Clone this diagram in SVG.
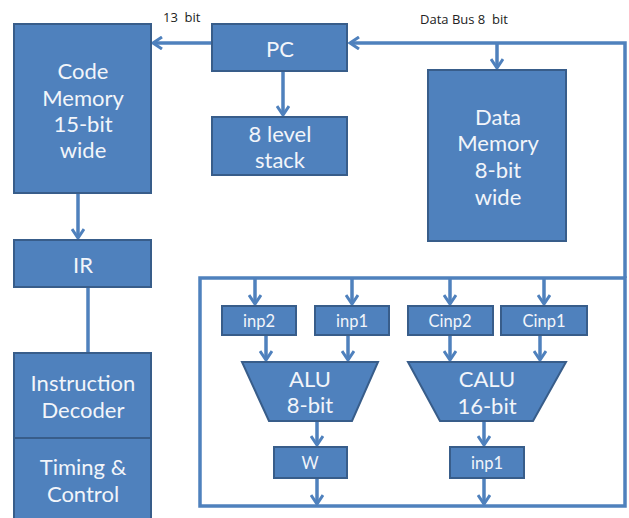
<svg xmlns="http://www.w3.org/2000/svg" width="629" height="518" viewBox="0 0 629 518">
<defs>
<style>
.box{fill:#4F81BD;stroke:#385D8A;stroke-width:2}
.ln{fill:none;stroke:#4F81BD;stroke-width:3.5}
.t{font-family:Lato,"Open Sans","Liberation Sans",sans-serif;fill:#F2F5FA;text-anchor:middle;dominant-baseline:central}
.big{font-size:22px}
.sm{font-size:16.5px}
.lbl{font-family:"Open Sans","Liberation Sans",sans-serif;font-size:13px;fill:#222;white-space:pre}
</style>
<marker id="ah" viewBox="0 0 14 14" refX="12" refY="7" markerWidth="14" markerHeight="14" markerUnits="userSpaceOnUse" orient="auto">
<polyline points="3,1 12,7 3,13" fill="none" stroke="#4F81BD" stroke-width="3"/>
</marker>
</defs>
<rect width="629" height="518" fill="#fff"/>
<g id="connectors">
<line class="ln" x1="212" y1="43" x2="153" y2="43" marker-end="url(#ah)"/>
<line class="ln" x1="283" y1="71" x2="283" y2="115" marker-end="url(#ah)"/>
<polyline class="ln" points="625,278 625,43 350,43" marker-end="url(#ah)"/>
<line class="ln" x1="497" y1="43" x2="497" y2="68" marker-end="url(#ah)"/>
<line class="ln" x1="78" y1="193" x2="78" y2="238" marker-end="url(#ah)"/>
<line class="ln" x1="88" y1="287" x2="88" y2="353"/>
<rect class="ln" x="200" y="278" width="425" height="228"/>
<line class="ln" x1="255" y1="278" x2="255" y2="304" marker-end="url(#ah)"/>
<line class="ln" x1="352" y1="278" x2="352" y2="304" marker-end="url(#ah)"/>
<line class="ln" x1="450" y1="278" x2="450" y2="304" marker-end="url(#ah)"/>
<line class="ln" x1="544" y1="278" x2="544" y2="304" marker-end="url(#ah)"/>
<line class="ln" x1="266" y1="335" x2="266" y2="360" marker-end="url(#ah)"/>
<line class="ln" x1="348" y1="335" x2="348" y2="360" marker-end="url(#ah)"/>
<line class="ln" x1="450" y1="335" x2="450" y2="360" marker-end="url(#ah)"/>
<line class="ln" x1="540" y1="335" x2="540" y2="360" marker-end="url(#ah)"/>
<line class="ln" x1="317" y1="421" x2="317" y2="445" marker-end="url(#ah)"/>
<line class="ln" x1="484" y1="421" x2="484" y2="445" marker-end="url(#ah)"/>
<line class="ln" x1="317" y1="478" x2="317" y2="504" marker-end="url(#ah)"/>
<line class="ln" x1="484" y1="478" x2="484" y2="504" marker-end="url(#ah)"/>
</g>
<text class="lbl" x="163" y="22">13  bit</text>
<text class="lbl" x="420" y="24">Data Bus 8  bit</text>
<g id="codemem"><rect class="box" x="14" y="24" width="137" height="169"/>
<text class="t big" x="83" y="70">Code</text><text class="t big" x="83" y="97">Memory</text><text class="t big" x="83" y="123">15-bit</text><text class="t big" x="83" y="149">wide</text></g>
<g id="pc"><rect class="box" x="212" y="24" width="135" height="47"/><text class="t big" x="280" y="48">PC</text></g>
<g id="stack"><rect class="box" x="212" y="117" width="135" height="58"/><text class="t big" x="280" y="133">8 level</text><text class="t big" x="280" y="159">stack</text></g>
<g id="datamem"><rect class="box" x="428" y="70" width="138" height="171"/>
<text class="t big" x="498" y="116">Data</text><text class="t big" x="498" y="142">Memory</text><text class="t big" x="498" y="169">8-bit</text><text class="t big" x="498" y="196">wide</text></g>
<g id="ir"><rect class="box" x="14" y="240" width="137" height="47"/><text class="t big" x="83" y="264">IR</text></g>
<g id="decoder"><rect class="box" x="14" y="353" width="137" height="85"/><text class="t big" x="83" y="382">Instruction</text><text class="t big" x="83" y="409">Decoder</text></g>
<g id="timing"><rect class="box" x="14" y="438" width="137" height="82"/><text class="t big" x="83" y="466">Timing &amp;</text><text class="t big" x="83" y="493">Control</text></g>
<g id="inp2"><rect class="box" x="222" y="306" width="74" height="29"/><text class="t sm" x="259" y="321">inp2</text></g>
<g id="inp1a"><rect class="box" x="315" y="306" width="74" height="29"/><text class="t sm" x="352" y="321">inp1</text></g>
<g id="cinp2"><rect class="box" x="408" y="306" width="85" height="29"/><text class="t sm" x="450" y="321">Cinp2</text></g>
<g id="cinp1"><rect class="box" x="501" y="306" width="86" height="29"/><text class="t sm" x="544" y="321">Cinp1</text></g>
<g id="alu"><polygon class="box" points="242,362 378,362 352,421 269,421"/><text class="t big" x="310" y="378">ALU</text><text class="t big" x="310" y="404">8-bit</text></g>
<g id="calu"><polygon class="box" points="408,362 566,362 533,421 440,421"/><text class="t big" x="487" y="378">CALU</text><text class="t big" x="487" y="405">16-bit</text></g>
<g id="w"><rect class="box" x="274" y="447" width="73" height="31"/><text class="t sm" x="310" y="463">W</text></g>
<g id="inp1b"><rect class="box" x="450" y="447" width="74" height="31"/><text class="t sm" x="487" y="463">inp1</text></g>
</svg>
